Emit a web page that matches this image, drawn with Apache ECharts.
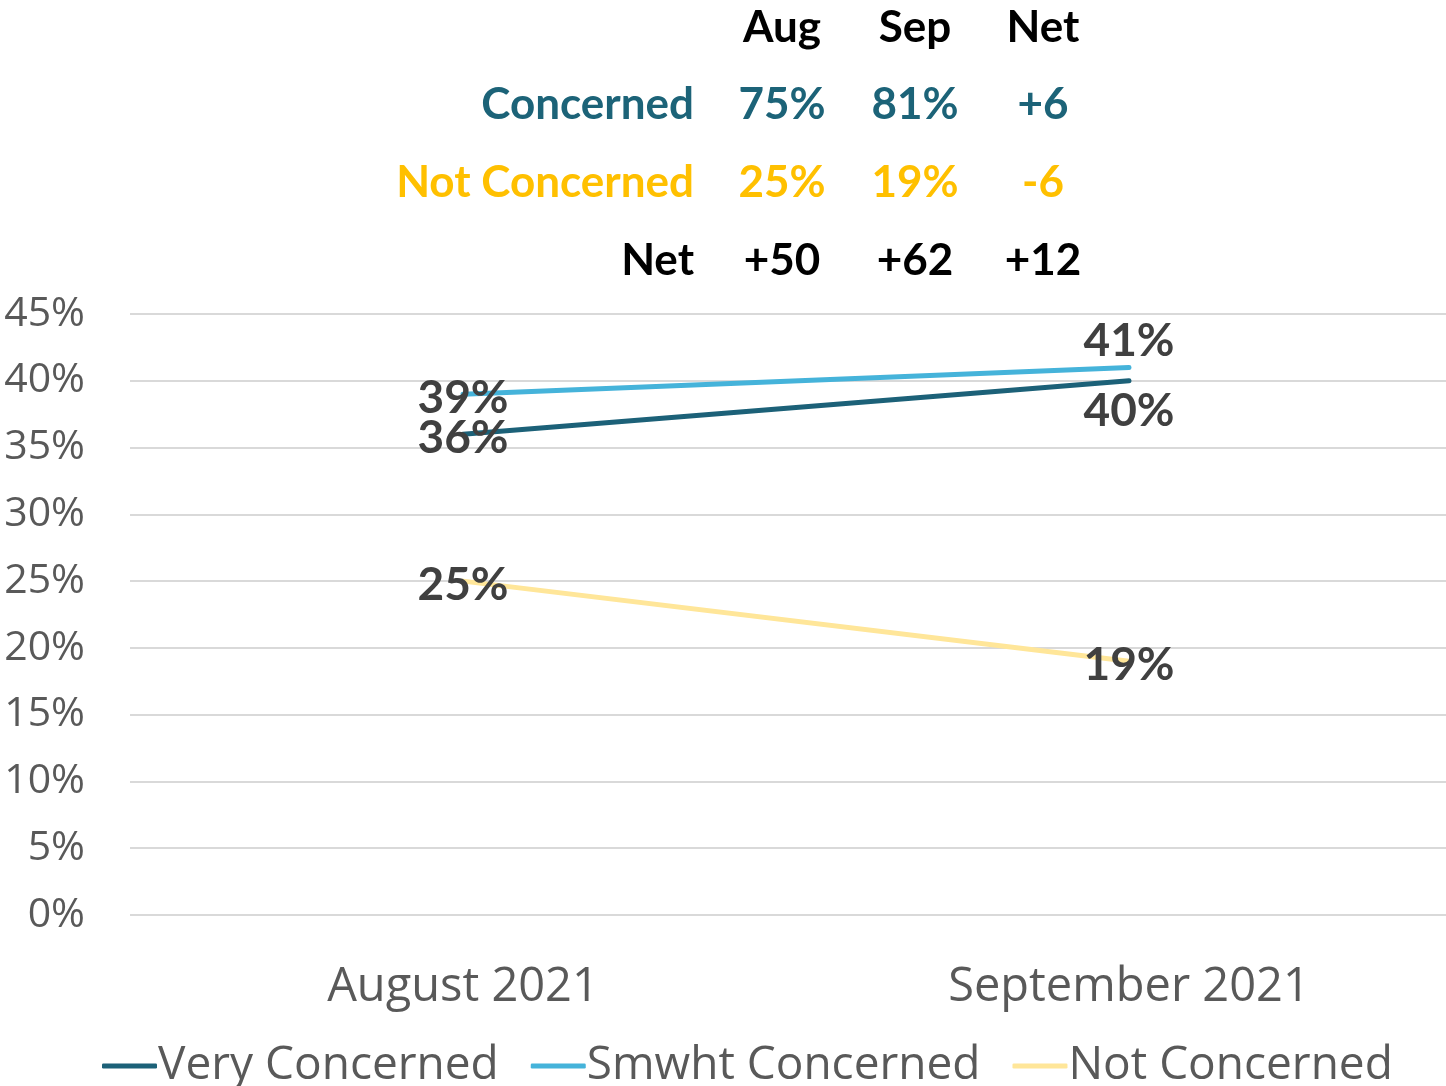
<!DOCTYPE html>
<html>
<head>
<meta charset="utf-8">
<script src="https://cdn.jsdelivr.net/npm/echarts@6/dist/echarts.min.js"></script>
<style>
  html, body { margin: 0; padding: 0; background: #fff; overflow: hidden; }
  #chart { width: 1462px; height: 1086px; }
</style>
</head>
<body>
<div id="chart"></div>
<script>
// Survey months on the category axis
const months = ['August 2021', 'September 2021'];

// Share of respondents per concern level (%)
const veryConcerned = [36, 40];
const smwhtConcerned = [39, 41];
const notConcerned = [25, 19];

// Summary table above the plot
const tableHeader = ['Aug', 'Sep', 'Net'];
const tableRowLabels = ['Concerned', 'Not Concerned', 'Net'];
const concernedRow = ['75%', '81%', '+6'];
const notConcernedRow = ['25%', '19%', '-6'];
const netRow = ['+50', '+62', '+12'];

// Y axis ticks
const yMin = 0, yMax = 45, yStep = 5;

const COL_VERY = '#1c6178';
const COL_SMWHT = '#45b3da';
const COL_NOT = '#ffe699';
const TXT_TEAL = '#1c6378';
const TXT_GOLD = '#ffc000';
const LABEL_DARK = '#404040';
const AXIS_GREY = '#595959';

const chart = echarts.init(document.getElementById('chart'), null, { renderer: 'canvas' });

const boldLabel = {
  show: true,
  fontFamily: 'Lato',
  fontWeight: 'bold',
  fontSize: 46,
  color: LABEL_DARK,
  formatter: p => p.value + '%'
};

// Per-point label placement: 'inside' labels sit on the point, others offset above/below
const placement = {
  inside: { position: 'inside', offset: [0, 4] },
  top: { position: 'top', distance: 3 },
  bottom: { position: 'bottom', distance: 7 }
};
function labeled(values, positions) {
  return values.map((v, i) => ({ value: v, label: placement[positions[i]] }));
}

// Table drawn as graphic text
const colX = [782, 915, 1043];
const rowY = [28, 105, 183, 261];
const labelRight = 694;
const tableFont = '700 44px Lato';
const graphics = [];
tableHeader.forEach((t, i) => graphics.push({
  type: 'text', x: colX[i], y: rowY[0],
  style: { text: t, font: tableFont, fill: '#000', align: 'center', verticalAlign: 'middle' }
}));
const rows = [
  { label: tableRowLabels[0], vals: concernedRow, color: TXT_TEAL },
  { label: tableRowLabels[1], vals: notConcernedRow, color: TXT_GOLD },
  { label: tableRowLabels[2], vals: netRow, color: '#000' }
];
rows.forEach((r, ri) => {
  const y = rowY[ri + 1];
  graphics.push({
    type: 'text', x: labelRight, y: y,
    style: { text: r.label, font: tableFont, fill: r.color, align: 'right', verticalAlign: 'middle' }
  });
  r.vals.forEach((t, i) => graphics.push({
    type: 'text', x: colX[i], y: y,
    style: { text: t, font: tableFont, fill: r.color, align: 'center', verticalAlign: 'middle' }
  }));
});

function lineSeries(name, color, values, positions) {
  return {
    name: name, type: 'line',
    symbol: 'circle', symbolSize: 0, showSymbol: true,
    lineStyle: { color: color, width: 5, cap: 'round' },
    itemStyle: { color: color },
    label: boldLabel,
    data: labeled(values, positions)
  };
}

chart.setOption({
  animation: false,
  backgroundColor: '#ffffff',
  grid: { left: 130, top: 314, right: 0, bottom: 171, containLabel: false },
  xAxis: {
    type: 'category',
    data: months,
    boundaryGap: true,
    axisLine: { show: false },
    axisTick: { show: false },
    axisLabel: { color: AXIS_GREY, fontFamily: 'Open Sans', fontSize: 47, margin: 49 }
  },
  yAxis: {
    type: 'value',
    min: yMin, max: yMax, interval: yStep,
    axisLine: { show: false },
    axisTick: { show: false },
    splitLine: { lineStyle: { color: '#d9d9d9', width: 2 } },
    axisLabel: {
      color: AXIS_GREY, fontFamily: 'Open Sans', fontSize: 41, margin: 45,
      padding: [6, 0, 0, 0],
      formatter: v => v + '%'
    }
  },
  legend: {
    bottom: -8,
    left: 97,
    itemGap: 32,
    itemWidth: 55,
    itemHeight: 5,
    icon: 'roundRect',
    textStyle: { color: AXIS_GREY, fontFamily: 'Open Sans', fontSize: 46, padding: [0, 0, 0, -4] },
    data: ['Very Concerned', 'Smwht Concerned', 'Not Concerned']
  },
  graphic: graphics,
  series: [
    lineSeries('Very Concerned', COL_VERY, veryConcerned, ['inside', 'bottom']),
    lineSeries('Smwht Concerned', COL_SMWHT, smwhtConcerned, ['inside', 'top']),
    lineSeries('Not Concerned', COL_NOT, notConcerned, ['inside', 'inside'])
  ]
});
</script>
</body>
</html>
